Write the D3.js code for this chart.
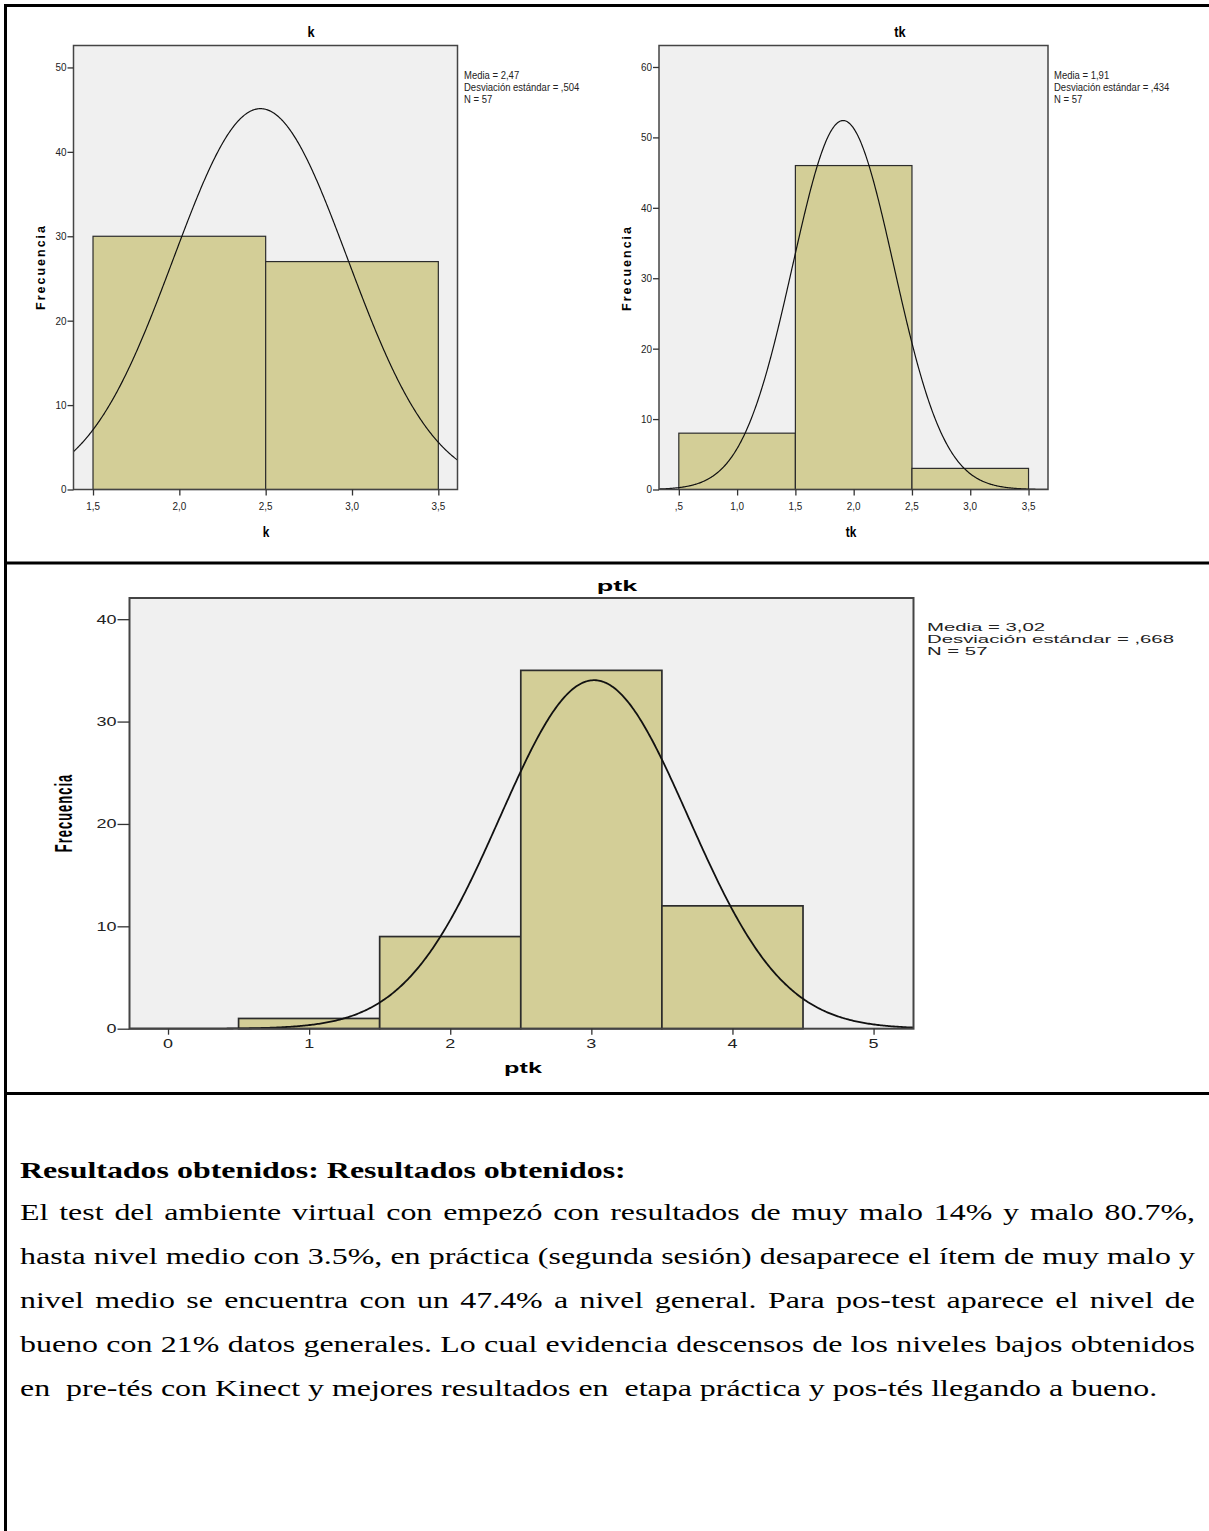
<!DOCTYPE html>
<html>
<head>
<meta charset="utf-8">
<script src="https://cdn.jsdelivr.net/npm/d3@7"></script>
<style>
  body { margin: 0; background: #fff; }
  svg text { white-space: pre; }
</style>
</head>
<body>
<svg id="page" width="1209" height="1531"></svg>
<script>
// ---------- data: k ----------
const kBinStart = [1.5, 2.5];
const kCounts = [30, 27];
const kYTicks = [0, 10, 20, 30, 40, 50];
const kXTicks = [1.5, 2.0, 2.5, 3.0, 3.5];
const kXTickLabels = ["1,5", "2,0", "2,5", "3,0", "3,5"];
const kLegend = ["Media = 2,47", "Desviación estándar = ,504", "N = 57"];
const kMean = 2.47, kSd = 0.504, kN = 57;

// ---------- data: tk ----------
const tkBinStart = [0.5, 1.5, 2.5];
const tkCounts = [8, 46, 3];
const tkYTicks = [0, 10, 20, 30, 40, 50, 60];
const tkXTicks = [0.5, 1.0, 1.5, 2.0, 2.5, 3.0, 3.5];
const tkXTickLabels = [",5", "1,0", "1,5", "2,0", "2,5", "3,0", "3,5"];
const tkLegend = ["Media = 1,91", "Desviación estándar = ,434", "N = 57"];
const tkMean = 1.91, tkSd = 0.434, tkN = 57;

// ---------- data: ptk ----------
const ptkBinStart = [0.5, 1.5, 2.5, 3.5];
const ptkCounts = [1, 9, 35, 12];
const ptkYTicks = [0, 10, 20, 30, 40];
const ptkXTicks = [0, 1, 2, 3, 4, 5];
const ptkXTickLabels = ["0", "1", "2", "3", "4", "5"];
const ptkLegend = ["Media = 3,02", "Desviación estándar = ,668", "N = 57"];
const ptkMean = 3.02, ptkSd = 0.668, ptkN = 57;

const binWidth = 1;
const yLabel = "Frecuencia";

// ---------- text below the charts ----------
const heading = "Resultados obtenidos: Resultados obtenidos:";
const bodyLines = [
  "El test del ambiente virtual con empezó con resultados de muy malo 14% y malo 80.7%,",
  "hasta nivel medio con 3.5%, en práctica (segunda sesión) desaparece el ítem de muy malo y",
  "nivel medio se encuentra con un 47.4% a nivel general. Para pos-test aparece el nivel de",
  "bueno con 21% datos generales. Lo cual evidencia descensos de los niveles bajos obtenidos",
  "en  pre-tés con Kinect y mejores resultados en  etapa práctica y pos-tés llegando a bueno."
];

const svg = d3.select("#page");
const SANS = "'Liberation Sans', Arial, sans-serif";
const SERIF = "'Liberation Serif', 'Times New Roman', 'DejaVu Serif Condensed', 'DejaVu Serif', serif";

// table rules
const rules = svg.append("g").attr("stroke", "#000").attr("stroke-width", 3);
rules.append("line").attr("x1", 5.5).attr("x2", 5.5).attr("y1", 4).attr("y2", 1531);
rules.append("line").attr("x1", 4).attr("x2", 1209).attr("y1", 5.5).attr("y2", 5.5);
rules.append("line").attr("x1", 4).attr("x2", 1209).attr("y1", 563).attr("y2", 563);
rules.append("line").attr("x1", 4).attr("x2", 1209).attr("y1", 1093.5).attr("y2", 1093.5);

function stretchText(g, x, y, str, o) {
  const t = g.append("text")
    .attr("transform", `translate(${x},${y}) scale(${o.sx || 1},1)` + (o.rot ? ` rotate(${o.rot})` : ""))
    .attr("font-family", o.family || SANS)
    .attr("font-size", o.size)
    .attr("font-weight", o.weight || "normal")
    .attr("text-anchor", o.anchor || "start")
    .attr("fill", o.fill || "#000")
    .text(str);
  if (o.spacing) t.attr("letter-spacing", o.spacing);
  return t;
}

function drawHistogram(o) {
  const g = svg.append("g");
  const x = d3.scaleLinear().domain(o.xDomain).range([o.left, o.right]);
  const y = d3.scaleLinear().domain([0, o.yMax]).range([o.bottom, o.top]);

  g.append("rect")
    .attr("x", o.left).attr("y", o.top)
    .attr("width", o.right - o.left).attr("height", o.bottom - o.top)
    .attr("fill", "#f0f0f0");

  g.selectAll("rect.bar").data(o.counts).join("rect")
    .attr("class", "bar")
    .attr("x", (d, i) => x(o.binStart[i]))
    .attr("width", (d, i) => x(o.binStart[i] + binWidth) - x(o.binStart[i]))
    .attr("y", d => y(d))
    .attr("height", d => y(0) - y(d))
    .attr("fill", "#d3ce97")
    .attr("stroke", "#2c2c2c")
    .attr("stroke-width", o.barStroke);

  // fitted normal curve scaled to counts
  const dens = v => o.n * binWidth / (o.sd * Math.sqrt(2 * Math.PI)) *
    Math.exp(-0.5 * Math.pow((v - o.mean) / o.sd, 2));
  const xs = d3.range(0, 601).map(i => o.xDomain[0] + (o.xDomain[1] - o.xDomain[0]) * i / 600);
  g.append("path").datum(xs)
    .attr("d", d3.line().x(v => x(v)).y(v => y(dens(v))))
    .attr("fill", "none").attr("stroke", "#111").attr("stroke-width", o.curveWidth);

  g.append("rect")
    .attr("x", o.left).attr("y", o.top)
    .attr("width", o.right - o.left).attr("height", o.bottom - o.top)
    .attr("fill", "none").attr("stroke", "#444").attr("stroke-width", o.frameWidth);

  // axes (tick marks)
  const ya = g.append("g").attr("transform", `translate(${o.left},0)`)
    .call(d3.axisLeft(y).tickValues(o.yTicks).tickSize(o.yTickLen).tickFormat(""));
  ya.select(".domain").remove();
  ya.selectAll("line").attr("stroke", "#333").attr("stroke-width", 1.3);

  const xa = g.append("g").attr("transform", `translate(0,${o.bottom})`)
    .call(d3.axisBottom(x).tickValues(o.xTicks).tickSize(o.xTickLen).tickFormat(""));
  xa.select(".domain").remove();
  xa.selectAll("line").attr("stroke", "#333").attr("stroke-width", 1.3);

  // tick labels
  o.yTicks.forEach(t => stretchText(g, o.left - o.yTickLen - 1, y(t) + o.tickSize * 0.36, String(t),
    { size: o.tickSize, anchor: "end", sx: o.tickSx, fill: "#222" }));
  o.xTicks.forEach((t, i) => stretchText(g, x(t), o.xTickBase, o.xTickLabels[i],
    { size: o.tickSize, anchor: "middle", sx: o.tickSx, fill: "#222" }));

  // titles
  stretchText(g, o.titleX, o.titleY, o.title, { size: o.titleSize, weight: "bold", anchor: "middle", sx: o.titleSx });
  stretchText(g, o.xLabelX, o.xLabelY, o.xLabel, { size: o.titleSize - 1, weight: "bold", anchor: "middle", sx: o.titleSx });
  stretchText(g, o.yLabelX, o.yLabelY, yLabel, { size: o.yLabelSize, weight: "bold", anchor: "middle", sx: o.yLabelSx, rot: -90, spacing: o.yLabelSpacing });

  // statistics box
  o.legend.forEach((s, i) => stretchText(g, o.legendX, o.legendY + i * o.legendStep, s,
    { size: o.legendSize, sx: o.legendSx, fill: "#222" }));
}

drawHistogram({
  title: "k", xLabel: "k",
  binStart: kBinStart, counts: kCounts, yTicks: kYTicks, xTicks: kXTicks, xTickLabels: kXTickLabels,
  legend: kLegend, mean: kMean, sd: kSd, n: kN,
  left: 73.5, right: 457.5, top: 45.5, bottom: 489.5, xDomain: [1.387, 3.611], yMax: 52.6,
  barStroke: 1.2, curveWidth: 1.2, frameWidth: 1.5,
  yTickLen: 6, xTickLen: 6, tickSize: 11, tickSx: 0.9, xTickBase: 510,
  titleX: 311, titleY: 37, titleSize: 15, titleSx: 0.85,
  xLabelX: 266, xLabelY: 537,
  yLabelX: 45, yLabelY: 267, yLabelSize: 12.5, yLabelSx: 1, yLabelSpacing: 2,
  legendX: 464, legendY: 78.5, legendStep: 12, legendSize: 10, legendSx: 0.95
});

drawHistogram({
  title: "tk", xLabel: "tk",
  binStart: tkBinStart, counts: tkCounts, yTicks: tkYTicks, xTicks: tkXTicks, xTickLabels: tkXTickLabels,
  legend: tkLegend, mean: tkMean, sd: tkSd, n: tkN,
  left: 659, right: 1048, top: 45.5, bottom: 489.5, xDomain: [0.33, 3.667], yMax: 63.05,
  barStroke: 1.2, curveWidth: 1.2, frameWidth: 1.5,
  yTickLen: 6, xTickLen: 6, tickSize: 11, tickSx: 0.9, xTickBase: 510,
  titleX: 900, titleY: 37, titleSize: 15, titleSx: 0.85,
  xLabelX: 851, xLabelY: 537,
  yLabelX: 631, yLabelY: 268, yLabelSize: 12.5, yLabelSx: 1, yLabelSpacing: 2,
  legendX: 1054, legendY: 78.5, legendStep: 12, legendSize: 10, legendSx: 0.95
});

drawHistogram({
  title: "ptk", xLabel: "ptk",
  binStart: ptkBinStart, counts: ptkCounts, yTicks: ptkYTicks, xTicks: ptkXTicks, xTickLabels: ptkXTickLabels,
  legend: ptkLegend, mean: ptkMean, sd: ptkSd, n: ptkN,
  left: 129.5, right: 913.5, top: 598, bottom: 1028.7, xDomain: [-0.273, 5.283], yMax: 42.07,
  barStroke: 1.7, curveWidth: 1.8, frameWidth: 2,
  yTickLen: 12, xTickLen: 6, tickSize: 12, tickSx: 1.5, xTickBase: 1048,
  titleX: 617, titleY: 591, titleSize: 15, titleSx: 1.8,
  xLabelX: 523, xLabelY: 1073,
  yLabelX: 72, yLabelY: 813, yLabelSize: 13, yLabelSx: 1.9, yLabelSpacing: 1,
  legendX: 927, legendY: 631, legendStep: 12, legendSize: 11, legendSx: 1.85
});

// ---------- paragraph ----------
const para = svg.append("g");
const fontPx = 24;
const headText = para.append("text")
  .attr("font-family", SERIF).attr("font-size", fontPx).attr("font-weight", "bold")
  .attr("font-stretch", "condensed")
  .text(heading);
const headLen = headText.node().getComputedTextLength();
const sx = 606 / headLen;
headText.attr("transform", `translate(20,1178) scale(${sx},1)`);

const lineStep = 44;
const fullWidth = 1175;
bodyLines.forEach((line, i) => {
  const t = para.append("text")
    .attr("font-family", SERIF).attr("font-size", fontPx)
    .attr("font-stretch", "condensed")
    .attr("transform", `translate(20,${1220 + i * lineStep}) scale(${sx},1)`)
    .text(line);
  if (i < bodyLines.length - 1) {
    const natural = t.node().getComputedTextLength();
    const gaps = (line.match(/ /g) || []).length;
    const extra = fullWidth / sx - natural;
    t.attr("word-spacing", extra / gaps);
  }
});
</script>
</body>
</html>
